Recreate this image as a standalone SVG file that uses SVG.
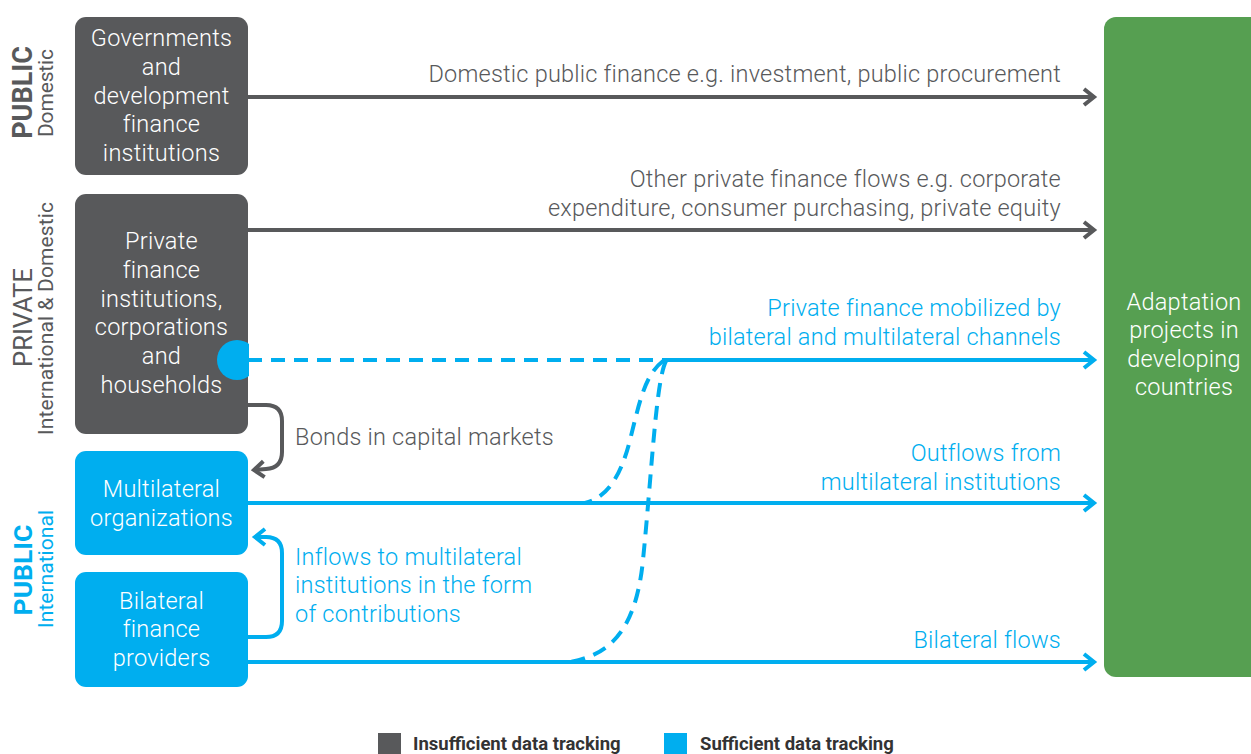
<svg xmlns="http://www.w3.org/2000/svg" width="1251" height="754" viewBox="0 0 1251 754">
<style>
.t{font-family:Roboto,"Liberation Sans",sans-serif;font-weight:300;}
.box{font-size:23.5px;letter-spacing:0.25px;fill:#ffffff;text-anchor:middle;}
.lbl{font-size:23.5px;letter-spacing:0.22px;}
.g{fill:#58595b;}
.b{fill:#00aeef;}
.r{text-anchor:end;}
.side{font-family:Roboto,"Liberation Sans",sans-serif;text-anchor:middle;}
.gl{stroke:#58595b;stroke-width:4;fill:none;}
.bl{stroke:#00aeef;stroke-width:4;fill:none;}
.dash{stroke-dasharray:14 9;}
.leg{font-family:Roboto,"Liberation Sans",sans-serif;font-weight:700;font-size:18.5px;fill:#333333;}
</style>
<defs>
<marker id="ag" viewBox="0 0 20 20" refX="16" refY="10" markerWidth="20" markerHeight="20" markerUnits="userSpaceOnUse" orient="auto">
<path d="M6,2 L16,10 L6,18" fill="none" stroke="#58595b" stroke-width="4"/>
</marker>
<marker id="ab" viewBox="0 0 20 20" refX="16" refY="10" markerWidth="20" markerHeight="20" markerUnits="userSpaceOnUse" orient="auto">
<path d="M6,2 L16,10 L6,18" fill="none" stroke="#00aeef" stroke-width="4"/>
</marker>
<clipPath id="cc"><rect x="200" y="330" width="49" height="60"/></clipPath>
</defs>

<g id="side-labels">
<text class="side g" transform="translate(32,92.5) rotate(-90)" font-size="27" font-weight="700">PUBLIC</text>
<text class="side g" transform="translate(53,93) rotate(-90)" font-size="21" font-weight="400" textLength="88">Domestic</text>
<text class="side g" transform="translate(32,317.5) rotate(-90)" font-size="25.5" font-weight="400">PRIVATE</text>
<text class="side g" transform="translate(53,318.5) rotate(-90)" font-size="21" font-weight="400" textLength="233">International &amp; Domestic</text>
<text class="side b" transform="translate(32,570) rotate(-90)" font-size="26.5" font-weight="700">PUBLIC</text>
<text class="side b" transform="translate(53,569) rotate(-90)" font-size="21" font-weight="400" textLength="118">International</text>
</g>

<g id="connectors">
<line class="gl" x1="248" y1="97" x2="1094" y2="97" marker-end="url(#ag)"/>
<line class="gl" x1="248" y1="230" x2="1094" y2="230" marker-end="url(#ag)"/>
<line class="bl dash" x1="248" y1="360" x2="665" y2="360"/>
<line class="bl" x1="665" y1="360" x2="1094" y2="360" marker-end="url(#ab)"/>
<line class="bl" x1="248" y1="503" x2="1094" y2="503" marker-end="url(#ab)"/>
<line class="bl" x1="248" y1="662" x2="1094" y2="662" marker-end="url(#ab)"/>
<path class="bl dash" d="M663,361 C645,375 640,400 630,440 C620,480 605,498 585,503"/>
<path class="bl dash" d="M666,361 C656,380 652,470 643,560 C636,630 610,655 570,662"/>
<path class="gl" d="M248,405 H266 Q282,405 282,421 V452 Q282,468 266,469 L254,470" marker-end="url(#ag)"/>
<path class="bl" d="M248,637 H266 Q282,637 282,621 V553 Q282,537 266,537 L255,537" marker-end="url(#ab)"/>
</g>

<g id="node-governments">
<rect x="75" y="17" width="173" height="158" rx="11" fill="#58595b"/>
<text class="t box"><tspan x="161.5" y="46">Governments</tspan><tspan x="161.5" y="75">and</tspan><tspan x="161.5" y="104">development</tspan><tspan x="161.5" y="132">finance</tspan><tspan x="161.5" y="161">institutions</tspan></text>
</g>

<g id="node-private">
<rect x="75" y="194" width="173" height="240" rx="11" fill="#58595b"/>
<text class="t box"><tspan x="161.5" y="249">Private</tspan><tspan x="161.5" y="278">finance</tspan><tspan x="161.5" y="307">institutions,</tspan><tspan x="161.5" y="335">corporations</tspan><tspan x="161.5" y="364">and</tspan><tspan x="161.5" y="393">households</tspan></text>
<circle cx="237" cy="360" r="20" fill="#00aeef" clip-path="url(#cc)"/>
</g>

<g id="node-multilateral">
<rect x="75" y="451" width="173" height="104" rx="11" fill="#00aeef"/>
<text class="t box"><tspan x="161.5" y="497">Multilateral</tspan><tspan x="161.5" y="526">organizations</tspan></text>
</g>

<g id="node-bilateral">
<rect x="75" y="572" width="173" height="115" rx="11" fill="#00aeef"/>
<text class="t box"><tspan x="161.5" y="609">Bilateral</tspan><tspan x="161.5" y="637">finance</tspan><tspan x="161.5" y="666">providers</tspan></text>
</g>

<g id="node-adaptation">
<rect x="1104" y="17" width="170" height="660" rx="12" fill="#569f51"/>
<text class="t box"><tspan x="1184" y="310">Adaptation</tspan><tspan x="1184" y="338">projects in</tspan><tspan x="1184" y="367">developing</tspan><tspan x="1184" y="395">countries</tspan></text>
</g>

<g id="edge-labels">
<text class="t lbl g r" x="1061" y="82">Domestic public finance e.g. investment, public procurement</text>
<text class="t lbl g r"><tspan x="1061" y="187">Other private finance flows e.g. corporate</tspan><tspan x="1061" y="216">expenditure, consumer purchasing, private equity</tspan></text>
<text class="t lbl b r"><tspan x="1061" y="316">Private finance mobilized by</tspan><tspan x="1061" y="345">bilateral and multilateral channels</tspan></text>
<text class="t lbl b r"><tspan x="1061" y="461">Outflows from</tspan><tspan x="1061" y="490">multilateral institutions</tspan></text>
<text class="t lbl b r" x="1061" y="648">Bilateral flows</text>
<text class="t lbl g" x="295" y="445">Bonds in capital markets</text>
<text class="t lbl b"><tspan x="295" y="565">Inflows to multilateral</tspan><tspan x="295" y="593">institutions in the form</tspan><tspan x="295" y="622">of contributions</tspan></text>
</g>

<g id="legend">
<rect x="378" y="733" width="23" height="23" fill="#58595b"/>
<text class="leg" x="413" y="750">Insufficient data tracking</text>
<rect x="664" y="733" width="23" height="23" fill="#00aeef"/>
<text class="leg" x="700" y="750">Sufficient data tracking</text>
</g>
</svg>
